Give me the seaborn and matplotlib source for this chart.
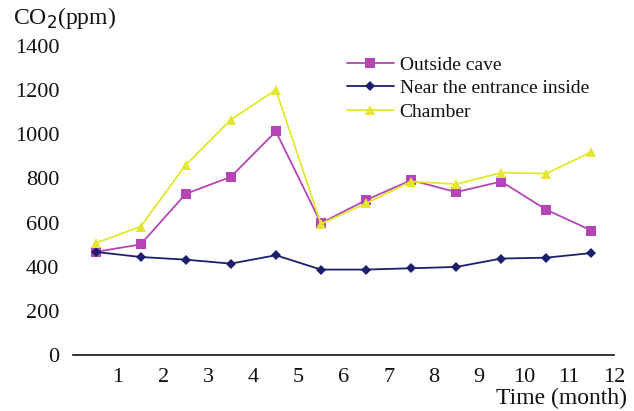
import matplotlib
matplotlib.use("Agg")
import matplotlib.pyplot as plt
import seaborn as sns
import pandas as pd

months = [0.5, 1.5, 2.5, 3.5, 4.5, 5.5, 6.5, 7.5, 8.5, 9.5, 10.5, 11.5]
outside_cave = [467, 501, 730, 807, 1013, 597, 702, 792, 738, 786, 658, 564]
near_entrance = [467, 444, 432, 414, 452, 387, 387, 393, 399, 437, 441, 462]
chamber = [507, 582, 861, 1066, 1201, 594, 687, 786, 774, 826, 822, 920]
series_names = ["Outside cave", "Near the entrance inside", "Chamber"]
x_ticks = list(range(1, 13))
y_ticks = [0, 200, 400, 600, 800, 1000, 1200, 1400]

df = pd.DataFrame({
    "month": months * 3,
    "co2": outside_cave + near_entrance + chamber,
    "series": [series_names[0]] * 12 + [series_names[1]] * 12 + [series_names[2]] * 12,
})

sns.set_theme(style="white")
plt.rcParams["font.family"] = ["Liberation Serif", "DejaVu Serif"]

colors = {series_names[0]: "#B545B5", series_names[1]: "#1C1F6B", series_names[2]: "#E4E82C"}
markers = {series_names[0]: "s", series_names[1]: "D", series_names[2]: "^"}

fig = plt.figure(figsize=(6.34, 4.11), dpi=100)
ax = fig.add_axes([73 / 634, 1 - 355 / 411, 541 / 634, 309 / 411])

sns.lineplot(data=df, x="month", y="co2", hue="series", style="series",
             palette=colors, markers=markers, dashes=False, ax=ax,
             linewidth=1.3, markersize=6.5, markeredgewidth=0, legend=True)
for line in ax.get_lines():
    if line.get_marker() == "D":
        line.set_markersize(5.5)

ax.set_xlim(0, 12)
ax.set_ylim(0, 1400)
ax.set_xticks(x_ticks)
ax.set_yticks(y_ticks)
ax.set_xticklabels([str(t) for t in x_ticks], fontsize=16)
ax.set_yticklabels([str(t) for t in y_ticks], fontsize=16)
ax.tick_params(axis="x", direction="in", length=4, color="#BBBBBB", pad=9, labelcolor="#111111")
ax.tick_params(axis="y", direction="out", length=3, color="#BBBBBB", pad=7, labelcolor="#111111")
ax.set_xlabel("")
ax.set_ylabel("")
for s in ["left", "top", "right"]:
    ax.spines[s].set_visible(False)
ax.spines["bottom"].set_color("#111111")
ax.spines["bottom"].set_linewidth(1.2)

leg = ax.legend(loc="upper left", bbox_to_anchor=(0.485, 1.005), frameon=False,
                fontsize=14, handlelength=2.4, handletextpad=0.3,
                labelspacing=0.3, borderaxespad=0.2)
for t in leg.get_texts():
    t.set_color("#111111")

fig.text(13 / 634, 1 - 18 / 411, "CO$_2$(ppm)", fontsize=17, va="center", ha="left", color="#111111")
fig.text(627 / 634, 1 - 398 / 411, "Time (month)", fontsize=17, va="center", ha="right", color="#111111")

fig.savefig("out.png", dpi=100)
